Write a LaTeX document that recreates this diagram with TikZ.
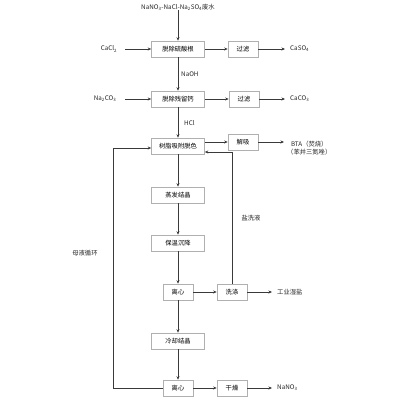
\documentclass[tikz,border=0pt]{standalone}
\usepackage{fontspec}
\setmainfont{Noto Sans CJK SC}
\usetikzlibrary{arrows.meta}
\definecolor{ln}{HTML}{3A3A3A}
\definecolor{bx}{HTML}{B0B0B0}
\begin{document}
\begin{tikzpicture}[x=1pt,y=-1pt,
  font=\fontsize{6.3}{7.5}\selectfont,
  box/.style={draw=bx,fill=white,line width=0.6pt,minimum height=16pt,inner sep=1pt},
  wide/.style={box,minimum width=53pt},
  small/.style={box,minimum width=30pt},
  lbl/.style={inner sep=0pt,text=black!85},
  conn/.style={draw=ln,line width=0.6pt,-{Stealth[length=3.5pt,width=3pt]}},
  plain/.style={draw=ln,line width=0.6pt}]
\useasboundingbox (0,0) rectangle (400,400);
\node[lbl] (src) at (178,7) {NaNO\textsubscript{3}-NaCl-Na\textsubscript{2}SO\textsubscript{4}废水};
\node[wide] (b1) at (178,49) {脱除硫酸根};
\node[small] (f1) at (243,49) {过滤};
\node[lbl] (cacl) at (109,49) {CaCl\textsubscript{2}};
\node[lbl,anchor=west] (caso) at (290,49) {CaSO\textsubscript{4}};
\node[wide] (b2) at (178,99) {脱除残留钙};
\node[small] (f2) at (244,99) {过滤};
\node[lbl] (naco) at (105,99) {Na\textsubscript{2}CO\textsubscript{3}};
\node[lbl,anchor=west] (caco) at (290,99) {CaCO\textsubscript{3}};
\node[lbl,anchor=west] (naoh) at (181,74) {NaOH};
\node[lbl,anchor=west] (hcl) at (184,123) {HCl};
\node[wide] (b3) at (178,146) {树脂吸附脱色};
\node[small] (jx) at (243,142) {解吸};
\node[lbl,align=center,anchor=west] (bta) at (287,148) {BTA（焚烧）\\（苯并三氮唑）};
\node[wide] (b4) at (178,195) {蒸发结晶};
\node[wide] (b5) at (178,243) {保温沉降};
\node[small] (lx1) at (178,292) {离心};
\node[small] (xd) at (232,292) {洗涤};
\node[lbl,anchor=west] (gy) at (277,292) {工业湿盐};
\node[wide] (b6) at (178,341) {冷却结晶};
\node[small] (lx2) at (178,388) {离心};
\node[small] (gz) at (232,388) {干燥};
\node[lbl,anchor=west] (nano) at (277,388) {NaNO\textsubscript{3}};
\node[lbl] (yxy) at (251,218) {盐洗液};
\node[lbl] (mxh) at (85,253) {母液循环};
\coordinate (e1) at (285,49);
\coordinate (e2) at (285,99);
\coordinate (e3) at (284,142);
\coordinate (e4) at (272,292);
\coordinate (e5) at (272,388);
\draw[conn] (src) -- (b1);
\draw[conn] (cacl.east) ++(8,0) -- (b1.west);
\draw[conn] (b1) -- (f1);
\draw[conn] (f1) -- (e1);
\draw[conn] (b1) -- (b2);
\draw[conn] (naco.east) ++(9,0) -- (b2.west);
\draw[conn] (b2) -- (f2);
\draw[conn] (f2) -- (e2);
\draw[conn] (b2) -- (b3);
\draw[conn] (b3.east |- jx) -- (jx.west);
\draw[conn] (jx) -- (e3);
\draw[conn] (b3) -- (b4);
\draw[conn] (b4) -- (b5);
\draw[conn] (b5) -- (lx1);
\draw[conn] (lx1) -- (xd);
\draw[conn] (xd) -- (e4);
\draw[conn] (xd.north) -- (xd.north |- 0,152) -- (b3.east |- 0,152);
\draw[conn] (lx1) -- (b6);
\draw[conn] (b6) -- (lx2);
\draw[conn] (lx2) -- (gz);
\draw[conn] (gz) -- (e5);
\draw[conn] (lx2.west) -- (113,388) -- (113,148) -- (b3.west |- 0,148);
\end{tikzpicture}
\end{document}
